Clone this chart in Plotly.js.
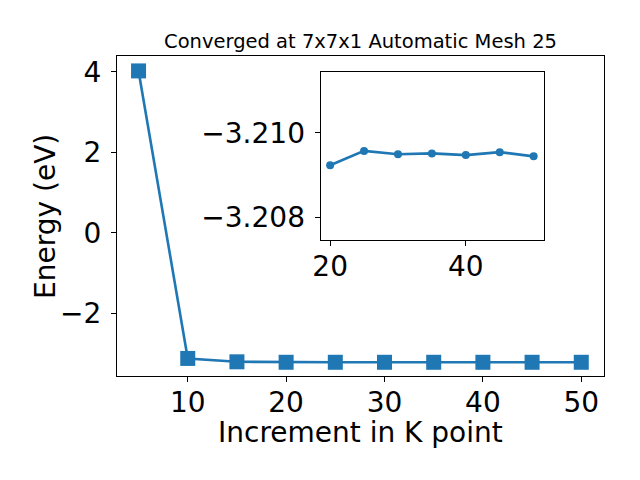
<!DOCTYPE html>
<html><head><meta charset="utf-8">
<script src="https://cdn.plot.ly/plotly-3.0.1.min.js"></script>
<style>html,body{margin:0;padding:0;background:#fff}</style>
</head><body>
<div id="plot" style="width:640px;height:480px"></div>
<script>
const kpoints = [5, 10, 15, 20, 25, 30, 35, 40, 45, 50];
const energy = [4.02, -3.114, -3.198, -3.20923, -3.20957, -3.20949, -3.20951, -3.20947, -3.20954, -3.20944];
const insetK = [20, 25, 30, 35, 40, 45, 50];
const insetEnergy = [-3.20923, -3.20957, -3.20949, -3.20951, -3.20947, -3.20954, -3.20944];
const titleText = "Converged at 7x7x1 Automatic Mesh 25";
const xTitle = "Increment in K point";
const yTitle = "Energy (eV)";

const blue = '#1f77b4';
const font = 'DejaVu Sans, sans-serif';

const traces = [
  {x: kpoints, y: energy, type: 'scatter', mode: 'lines+markers',
   line: {color: blue, width: 2.6}, marker: {symbol: 'square', size: 15, color: blue},
   xaxis: 'x', yaxis: 'y', showlegend: false, hoverinfo: 'skip'},
  {x: insetK, y: insetEnergy, type: 'scatter', mode: 'lines+markers',
   line: {color: blue, width: 2.6}, marker: {symbol: 'circle', size: 8, color: blue},
   xaxis: 'x2', yaxis: 'y2', showlegend: false, hoverinfo: 'skip'}
];

const axCommon = {showgrid: false, zeroline: false, showline: true, mirror: true,
  linecolor: '#000', linewidth: 1, ticks: 'outside', ticklen: 5, tickcolor: '#000', tickwidth: 1,
  tickfont: {family: font, size: 28, color: '#000'}};

const layout = {
  width: 640, height: 480,
  margin: {l: 117, r: 36, t: 56, b: 104},
  paper_bgcolor: '#fff', plot_bgcolor: '#fff',
  font: {family: font, color: '#000'},
  title: {text: titleText, font: {family: font, size: 19.5, color: '#000'},
          x: 0.5, xref: 'paper', y: 1, yref: 'paper', yanchor: 'bottom', pad: {b: 8}},
  xaxis: Object.assign({}, axCommon, {domain: [0, 1], range: [2.81, 52.31], tickmode: 'array',
    tickvals: [10, 20, 30, 40, 50], ticklabelstandoff: -4}),
  yaxis: Object.assign({}, axCommon, {domain: [0, 1], range: [-3.55, 4.39], tickmode: 'array',
    tickvals: [-2, 0, 2, 4], ticklabelstandoff: 4}),
  xaxis2: Object.assign({}, axCommon, {domain: [0.418, 0.877], anchor: 'y2', range: [18.59, 51.54],
    tickmode: 'array', tickvals: [20, 40], ticklabelstandoff: -4}),
  yaxis2: Object.assign({}, axCommon, {domain: [0.425, 0.949], anchor: 'x2', range: [-3.20746, -3.21143],
    tickmode: 'array', tickvals: [-3.210, -3.208], tickformat: '.3f', ticklabelstandoff: 4}),
  annotations: [
    {text: xTitle, xref: 'paper', yref: 'paper', x: 0.5, y: -0.175, xanchor: 'center', yanchor: 'middle',
     showarrow: false, font: {family: font, size: 28, color: '#000'}},
    {text: yTitle, xref: 'paper', yref: 'paper', x: -0.148, y: 0.5, xanchor: 'center', yanchor: 'middle',
     textangle: -90, showarrow: false, font: {family: font, size: 28, color: '#000'}}
  ]
};

Plotly.newPlot('plot', traces, layout, {staticPlot: true, displayModeBar: false});
</script>
</body></html>
